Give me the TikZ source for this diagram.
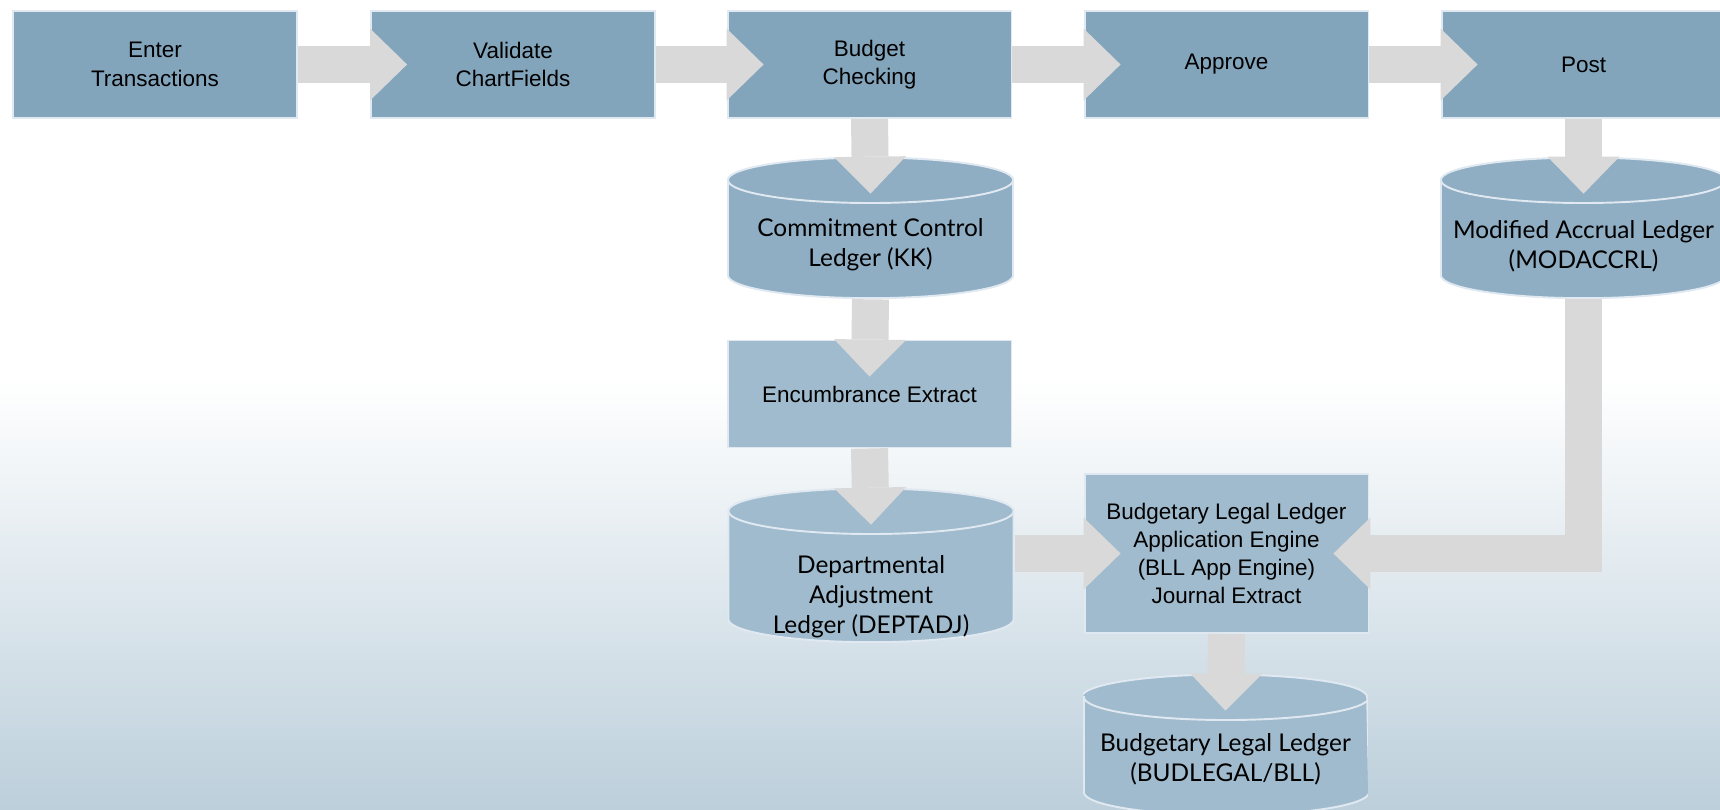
\documentclass[tikz,border=0pt]{standalone}
\usepackage{fontspec}
\setmainfont{Liberation Sans}
\newfontfamily\dbfont{Lato}
\usetikzlibrary{arrows.meta, calc}

\definecolor{stepblue}{RGB}{131,165,188}
\definecolor{ledgerblue}{RGB}{143,174,195}
\definecolor{paleblue}{RGB}{160,187,205}
\definecolor{edgeblue}{RGB}{224,233,241}
\definecolor{flowgray}{RGB}{217,217,217}
\definecolor{bgblue}{RGB}{188,207,219}

\tikzset{
  stepbox/.style={rectangle, draw=edgeblue, line width=1.1pt, fill=stepblue,
    minimum width=5.68cm, minimum height=2.14cm, align=center,
    font=\fontsize{12.8}{16.1}\selectfont},
  % database drum, drawn inside the node's box
  ledger/.style={rectangle, inner sep=0pt, minimum width=5.74cm, minimum height=2.84cm,
    path picture={
      \filldraw[fill=#1, draw=edgeblue, line width=1.1pt]
        ($(path picture bounding box.north west)+(0.8,23)$)
        -- ($(path picture bounding box.south west)+(0.8,-23.8)$)
        arc[start angle=180, end angle=360, x radius=2.854cm, y radius=0.46cm]
        -- ($(path picture bounding box.north east)+(-0.8,23)$)
        arc[start angle=0, end angle=180, x radius=2.854cm, y radius=0.45cm] -- cycle;
      \draw[edgeblue, line width=1.1pt] ($(path picture bounding box.north west)+(0.8,23)$)
        arc[start angle=180, end angle=360, x radius=2.854cm, y radius=0.46cm];
    }},
  ledger/.default=ledgerblue,
  ledgertext/.style={align=center, font=\dbfont\fontsize{13.9}{17}\selectfont},
  flow/.style={draw=flowgray, line width=0.74cm,
    -{Triangle[length=0.74cm, width=1.44cm, line width=0pt]}}
}

\begin{document}
\begin{tikzpicture}[x=0.02cm, y=-0.02cm]
    \useasboundingbox (0,0) rectangle (1720,809);
    % page background
    \fill[white] (0,0) rectangle (1720,381);
    \shade[top color=white, bottom color=bgblue] (0,380) rectangle (1720,809);

    % main process row
    \node[stepbox] (enter) at (155,64.5) {Enter\\Transactions};
    \node[stepbox] (valid) at (513,64.5) {Validate\\ChartFields};
    \node[stepbox] (budget) at (869.5,64.5) {Budget\\Checking};
    \node[stepbox] (approve) at (1226.5,64.5) {Approve};
    \node[stepbox] (post) at (1583.5,64.5) {Post};

    % ledgers and extracts
    \node[ledger] (kk) at (870.5,228) {};
    \node[ledger] (modaccrl) at (1583.5,228) {};
    \node[stepbox, fill=paleblue] (encx) at (869.5,394) {Encumbrance Extract};
    \node[ledger=paleblue, minimum height=3.1cm] (deptadj) at (871,565.5) {};
    \node[stepbox, fill=paleblue, minimum height=3.18cm] (bll) at (1226.5,553.5)
        {Budgetary Legal Ledger\\Application Engine\\(BLL App Engine)\\Journal Extract};
    \node[ledger=paleblue, minimum width=5.7cm] (budlegal) at (1225.5,745) {};

    % ledger captions sit low in the drum
    \node[ledgertext] (kktext) at ($(kk)+(0,17)$) {Commitment Control\\Ledger (KK)};
    \node[ledgertext] (modtext) at ($(modaccrl)+(0,18)$) {Modified Accrual Ledger\\(MODACCRL)};
    \node[ledgertext] (depttext) at ($(deptadj)+(0,31)$) {Departmental\\Adjustment\\Ledger (DEPTADJ)};
    \node[ledgertext] (budtext) at ($(budlegal)+(0,14)$) {Budgetary Legal Ledger\\(BUDLEGAL/BLL)};

    % flow arrows
    \draw[flow] (enter.east) -- ($(valid.west)+(37,0)$);
    \draw[flow] (valid.east) -- ($(budget.west)+(37,0)$);
    \draw[flow] (budget.east) -- ($(approve.west)+(37,0)$);
    \draw[flow] (approve.east) -- ($(post.west)+(37,0)$);
    \draw[flow] (budget.south) -- ($(kk.north)+(0,37)$);
    \draw[flow] (kk.south) -- ($(encx.north)+(0,37)$);
    \draw[flow] (encx.south) -- ($(deptadj.north)+(0,37)$);
    \draw[flow] (post.south) -- ($(modaccrl.north)+(0,37)$);
    \draw[flow] (deptadj.east |- bll.west) -- ($(bll.west)+(37,0)$);
    \draw[flow] (modaccrl.south) |- ($(bll.east)+(-36,0)$);
    \draw[flow] (bll.south) -- ($(budlegal.north)+(0,37)$);
\end{tikzpicture}
\end{document}
